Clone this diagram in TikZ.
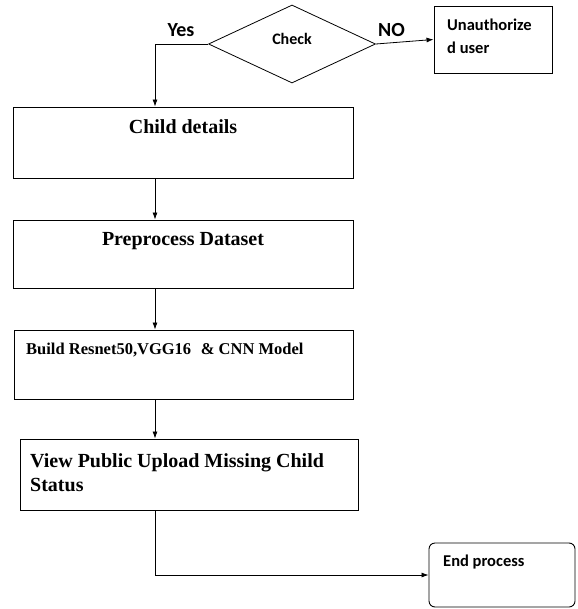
\documentclass[tikz,border=0pt]{standalone}
\usepackage{fontspec}
\setmainfont{Liberation Serif}
\newfontfamily\calib{Carlito}
\usetikzlibrary{shapes.geometric,arrows.meta}
\begin{document}
\begin{tikzpicture}[x=1pt,y=-1pt,
    box/.style={draw,line width=0.9pt,minimum width=340pt,minimum height=70pt,inner sep=0pt},
    serif/.style={font=\bfseries\fontsize{20}{24}\selectfont,inner sep=0pt},
    sans/.style={font=\calib\bfseries\fontsize{16.5}{23}\selectfont,inner sep=0pt},
    arr/.style={-{Latex[length=7pt,width=5pt]},line width=0.8pt}]
  \useasboundingbox (0,0) rectangle (577,609);
  \coordinate (spine) at (155,0);
  % decision
  \node[draw,diamond,line width=0.8pt,minimum width=167pt,minimum height=78pt,
        inner sep=0pt] (chk) at (292,44) {};
  \node[sans,font=\calib\bfseries\fontsize{16}{19}\selectfont,anchor=base] (chktxt) at (292,45) {Check};
  \node[draw,line width=0.9pt,minimum width=118pt,minimum height=67pt] (unauth) at (493,39.5) {};
  \node[sans,anchor=base west,align=left] (unauthtxt) at (447,54) {Unauthorize\\d user};
  \node[sans,font=\calib\bfseries\fontsize{20}{24}\selectfont,anchor=base] (yes) at (181,37) {Yes};
  \node[sans,font=\calib\bfseries\fontsize{20}{24}\selectfont,anchor=base] (no) at (391.5,37) {NO};
  % process boxes
  \node[box,minimum height=71pt] (child) at (183,142.5) {};
  \node[serif,anchor=base] (childtxt) at (183,134) {Child details};
  \node[box,minimum height=68pt] (prep) at (183,254) {};
  \node[serif,anchor=base] (preptxt) at (183,245) {Preprocess Dataset};
  \node[box,minimum width=339pt,minimum height=69pt] (build) at (183.5,364.5) {};
  \node[serif,anchor=base west,font=\bfseries\fontsize{16.5}{20}\selectfont] (buildtxt) at (26,354) {Build Resnet50,VGG16\,\, \& CNN Model};
  \node[box,minimum width=338pt,minimum height=71pt] (view) at (189,474.5) {};
  \node[serif,anchor=base west,align=left] (viewtxt) at (30,491) {View Public Upload Missing Child\\Status};
  \node[draw,rounded corners=6pt,line width=0.9pt,minimum width=146pt,minimum height=64pt] (endp) at (502,575) {};
  \node[sans,anchor=base west] (endptxt) at (443,566) {End process};
  % connectors
  \begin{scope}[arr]
    \draw (chk.east) -- (unauth.west);
    \draw (chk.west) -| (child.north -| spine);
    \draw (child.south -| spine) -- (prep.north -| spine);
    \draw (prep.south -| spine) -- (build.north -| spine);
    \draw (build.south -| spine) -- (view.north -| spine);
    \draw (view.south -| spine) |- (endp.west);
  \end{scope}
\end{tikzpicture}
\end{document}
